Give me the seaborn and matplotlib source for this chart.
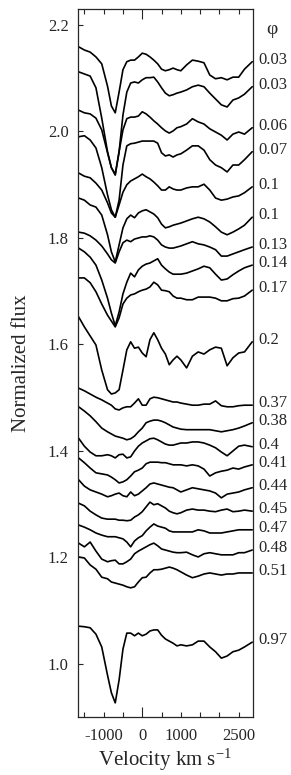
import matplotlib
matplotlib.use('Agg')
import numpy as np
import pandas as pd
import matplotlib.pyplot as plt
import matplotlib.transforms as mtransforms
import seaborn as sns

# velocity grid (km/s) shared by all spectra
velocity = [-1650, -1500, -1350, -1200, -1050, -900, -800, -700, -600, -500,
            -400, -300, -200, -100, 0, 100, 200, 300, 400, 500,
            600, 700, 800, 900, 1000, 1150, 1300, 1450, 1600, 1750,
            1900, 2050, 2200, 2350, 2500, 2650, 2850]

phases = ['0.03', '0.03', '0.06', '0.07', '0.1', '0.1', '0.13', '0.14', '0.17', '0.2',
          '0.37', '0.38', '0.4', '0.41', '0.44', '0.45', '0.47', '0.48', '0.51', '0.97']

# normalized flux (with vertical offsets as in the figure), top to bottom
flux_p003a = [2.159, 2.153, 2.149, 2.140, 2.127, 2.085, 2.048, 2.035, 2.074, 2.116,
              2.131, 2.134, 2.134, 2.140, 2.147, 2.145, 2.140, 2.134, 2.127, 2.117,
              2.114, 2.116, 2.119, 2.116, 2.114, 2.125, 2.134, 2.132, 2.129, 2.106,
              2.099, 2.101, 2.097, 2.102, 2.102, 2.117, 2.131]
flux_p003b = [2.112, 2.108, 2.104, 2.082, 2.025, 1.962, 1.932, 1.918, 1.962, 2.031,
              2.074, 2.091, 2.093, 2.091, 2.097, 2.101, 2.101, 2.102, 2.093, 2.082,
              2.072, 2.067, 2.069, 2.072, 2.074, 2.078, 2.084, 2.087, 2.084, 2.072,
              2.061, 2.050, 2.046, 2.059, 2.063, 2.070, 2.084]
flux_p006 = [2.040, 2.035, 2.033, 2.025, 2.003, 1.960, 1.932, 1.920, 1.962, 2.003,
             2.024, 2.027, 2.027, 2.029, 2.037, 2.033, 2.027, 2.020, 2.014, 2.007,
             2.001, 1.997, 2.001, 2.007, 2.009, 2.014, 2.024, 2.018, 2.014, 2.005,
             1.999, 1.993, 1.984, 1.995, 1.999, 1.995, 2.007]
flux_p007 = [1.990, 1.992, 1.984, 1.969, 1.932, 1.881, 1.853, 1.839, 1.871, 1.937,
             1.973, 1.977, 1.978, 1.980, 1.982, 1.982, 1.982, 1.982, 1.978, 1.960,
             1.954, 1.956, 1.952, 1.956, 1.958, 1.965, 1.973, 1.973, 1.965, 1.947,
             1.937, 1.932, 1.924, 1.937, 1.937, 1.947, 1.962]
flux_p010a = [1.922, 1.916, 1.913, 1.903, 1.890, 1.866, 1.847, 1.839, 1.862, 1.886,
              1.900, 1.907, 1.911, 1.915, 1.920, 1.915, 1.911, 1.905, 1.898, 1.890,
              1.890, 1.896, 1.892, 1.890, 1.890, 1.894, 1.896, 1.896, 1.901, 1.890,
              1.875, 1.871, 1.873, 1.877, 1.879, 1.885, 1.896]
flux_p010b = [1.875, 1.871, 1.862, 1.858, 1.843, 1.806, 1.774, 1.755, 1.787, 1.819,
              1.836, 1.843, 1.838, 1.847, 1.851, 1.853, 1.849, 1.845, 1.838, 1.826,
              1.819, 1.821, 1.824, 1.826, 1.828, 1.832, 1.836, 1.839, 1.836, 1.830,
              1.821, 1.811, 1.806, 1.811, 1.817, 1.824, 1.839]
flux_p013 = [1.811, 1.809, 1.804, 1.796, 1.785, 1.770, 1.759, 1.753, 1.774, 1.791,
             1.796, 1.793, 1.798, 1.800, 1.802, 1.802, 1.804, 1.802, 1.796, 1.787,
             1.783, 1.781, 1.781, 1.783, 1.785, 1.789, 1.793, 1.789, 1.787, 1.783,
             1.778, 1.766, 1.766, 1.770, 1.774, 1.778, 1.783]
flux_p014 = [1.781, 1.774, 1.764, 1.749, 1.721, 1.687, 1.659, 1.635, 1.661, 1.695,
             1.717, 1.734, 1.727, 1.740, 1.747, 1.751, 1.753, 1.757, 1.761, 1.749,
             1.742, 1.736, 1.732, 1.732, 1.732, 1.734, 1.738, 1.742, 1.747, 1.744,
             1.732, 1.721, 1.723, 1.731, 1.738, 1.744, 1.749]
flux_p017 = [1.725, 1.725, 1.716, 1.699, 1.676, 1.655, 1.644, 1.633, 1.650, 1.676,
             1.687, 1.693, 1.695, 1.699, 1.702, 1.704, 1.708, 1.717, 1.712, 1.702,
             1.701, 1.699, 1.691, 1.687, 1.687, 1.684, 1.684, 1.689, 1.689, 1.689,
             1.687, 1.682, 1.682, 1.686, 1.687, 1.691, 1.702]
flux_p020 = [1.652, 1.633, 1.616, 1.599, 1.552, 1.515, 1.507, 1.509, 1.515, 1.552,
             1.590, 1.605, 1.593, 1.595, 1.584, 1.577, 1.609, 1.622, 1.609, 1.593,
             1.582, 1.562, 1.571, 1.578, 1.571, 1.556, 1.578, 1.586, 1.582, 1.590,
             1.595, 1.593, 1.560, 1.575, 1.584, 1.586, 1.605]
flux_p037 = [1.518, 1.513, 1.507, 1.501, 1.496, 1.490, 1.486, 1.479, 1.477, 1.481,
             1.483, 1.483, 1.490, 1.498, 1.486, 1.486, 1.498, 1.501, 1.500, 1.498,
             1.496, 1.494, 1.492, 1.492, 1.490, 1.488, 1.486, 1.486, 1.488, 1.488,
             1.494, 1.485, 1.483, 1.483, 1.485, 1.486, 1.486]
flux_p038 = [1.483, 1.475, 1.466, 1.455, 1.443, 1.436, 1.432, 1.428, 1.426, 1.424,
             1.421, 1.423, 1.428, 1.436, 1.443, 1.453, 1.456, 1.458, 1.458, 1.456,
             1.453, 1.449, 1.445, 1.443, 1.441, 1.440, 1.440, 1.440, 1.440, 1.440,
             1.438, 1.436, 1.438, 1.440, 1.443, 1.447, 1.453]
flux_p040 = [1.424, 1.409, 1.398, 1.391, 1.391, 1.393, 1.391, 1.387, 1.393, 1.394,
             1.387, 1.389, 1.400, 1.409, 1.415, 1.419, 1.423, 1.424, 1.421, 1.417,
             1.413, 1.411, 1.411, 1.413, 1.415, 1.415, 1.417, 1.417, 1.415, 1.411,
             1.406, 1.398, 1.391, 1.400, 1.409, 1.411, 1.408]
flux_p041 = [1.387, 1.378, 1.368, 1.359, 1.357, 1.355, 1.351, 1.346, 1.340, 1.342,
             1.346, 1.353, 1.361, 1.364, 1.368, 1.376, 1.379, 1.379, 1.379, 1.378,
             1.378, 1.376, 1.374, 1.374, 1.374, 1.372, 1.374, 1.372, 1.366, 1.353,
             1.359, 1.362, 1.364, 1.368, 1.366, 1.370, 1.374]
flux_p044 = [1.346, 1.334, 1.327, 1.323, 1.319, 1.314, 1.316, 1.319, 1.321, 1.316,
             1.314, 1.323, 1.316, 1.319, 1.325, 1.331, 1.338, 1.340, 1.338, 1.336,
             1.334, 1.332, 1.331, 1.327, 1.323, 1.327, 1.331, 1.329, 1.327, 1.325,
             1.321, 1.312, 1.319, 1.321, 1.323, 1.327, 1.331]
flux_p045 = [1.302, 1.297, 1.287, 1.280, 1.274, 1.272, 1.272, 1.272, 1.270, 1.270,
             1.269, 1.270, 1.276, 1.280, 1.286, 1.295, 1.304, 1.299, 1.301, 1.297,
             1.293, 1.287, 1.284, 1.282, 1.284, 1.289, 1.291, 1.289, 1.289, 1.287,
             1.286, 1.289, 1.291, 1.286, 1.287, 1.289, 1.287]
flux_p047 = [1.261, 1.257, 1.252, 1.246, 1.242, 1.239, 1.239, 1.239, 1.237, 1.235,
             1.229, 1.220, 1.231, 1.237, 1.241, 1.250, 1.257, 1.263, 1.259, 1.257,
             1.255, 1.250, 1.248, 1.248, 1.248, 1.248, 1.248, 1.252, 1.250, 1.246,
             1.246, 1.246, 1.248, 1.250, 1.252, 1.252, 1.252]
flux_p048 = [1.227, 1.220, 1.229, 1.212, 1.197, 1.192, 1.194, 1.195, 1.188, 1.188,
             1.192, 1.197, 1.207, 1.212, 1.216, 1.220, 1.224, 1.227, 1.222, 1.216,
             1.214, 1.212, 1.210, 1.209, 1.209, 1.210, 1.205, 1.201, 1.207, 1.209,
             1.207, 1.205, 1.205, 1.205, 1.209, 1.209, 1.214]
flux_p051 = [1.201, 1.199, 1.186, 1.178, 1.163, 1.160, 1.154, 1.152, 1.150, 1.148,
             1.145, 1.143, 1.145, 1.154, 1.162, 1.163, 1.171, 1.177, 1.177, 1.178,
             1.180, 1.182, 1.180, 1.177, 1.173, 1.167, 1.162, 1.165, 1.169, 1.171,
             1.169, 1.167, 1.169, 1.169, 1.171, 1.171, 1.171]
flux_p097 = [1.071, 1.070, 1.068, 1.056, 1.032, 0.979, 0.946, 0.927, 0.970, 1.028,
             1.058, 1.058, 1.053, 1.058, 1.053, 1.056, 1.062, 1.064, 1.064, 1.054,
             1.047, 1.043, 1.039, 1.034, 1.036, 1.034, 1.036, 1.043, 1.043, 1.032,
             1.023, 1.011, 1.015, 1.023, 1.026, 1.032, 1.041]

spectra = [flux_p003a, flux_p003b, flux_p006, flux_p007, flux_p010a, flux_p010b,
           flux_p013, flux_p014, flux_p017, flux_p020, flux_p037, flux_p038,
           flux_p040, flux_p041, flux_p044, flux_p045, flux_p047, flux_p048,
           flux_p051, flux_p097]

rows = []
for i, flux in enumerate(spectra):
    for v, f in zip(velocity, flux):
        rows.append({'spectrum': i, 'velocity': v, 'flux': f})
df = pd.DataFrame(rows)

sns.set_style('ticks')
plt.rcParams['font.family'] = ['Liberation Serif', 'DejaVu Serif']
plt.rcParams['mathtext.fontset'] = 'custom'
plt.rcParams['mathtext.rm'] = 'Liberation Serif'
plt.rcParams['mathtext.it'] = 'Liberation Serif:italic'
plt.rcParams['axes.unicode_minus'] = False

fig = plt.figure(figsize=(2.91, 7.75), dpi=100)
ax = fig.add_axes([0.2694, 0.0752, 0.5986, 0.9132])

sns.lineplot(data=df, x='velocity', y='flux', units='spectrum', estimator=None,
             color='black', linewidth=1.2, ax=ax, legend=False, sort=False)

ax.set_xlim(-1655, 2860)
ax.set_ylim(0.901, 2.230)

# ticks every 500 km/s, only a few of them labelled
xt = [-1500, -1000, -500, 0, 500, 1000, 1500, 2000, 2500]
xl = ['', '-1000', '', '0', '', '1000', '', '', '2500']
ax.set_xticks(xt)
ax.set_xticklabels(xl)
ax.set_yticks([1.0, 1.2, 1.4, 1.6, 1.8, 2.0, 2.2])
ax.set_yticklabels(['1.0', '1.2', '1.4', '1.6', '1.8', '2.0', '2.2'])

ax.tick_params(axis='x', direction='in', top=True, bottom=True, length=3.5,
               width=0.8, labelsize=12, pad=8)
ax.tick_params(axis='y', direction='in', left=True, right=False, length=3.5,
               width=0.8, labelsize=12, pad=7)
for s in ax.spines.values():
    s.set_linewidth(0.9)
    s.set_visible(True)

zero_tick = ax.xaxis.get_major_ticks()[3]
zero_tick.tick1line.set_markersize(7)
zero_tick.tick2line.set_markersize(7)

ax.set_xlabel('Velocity km s$^{-1}$', fontsize=15, labelpad=2)
ax.set_ylabel('Normalized flux', fontsize=15, labelpad=12)

trans = mtransforms.blended_transform_factory(ax.transAxes, ax.transData)
for label, flux in zip(phases, spectra):
    ax.text(1.032, flux[-1] + 0.004, label, transform=trans, ha='left',
            va='center', fontsize=12)
ax.text(1.11, 2.192, 'φ', transform=trans, ha='center', va='center', fontsize=14)

fig.savefig('out.png', dpi=100)
